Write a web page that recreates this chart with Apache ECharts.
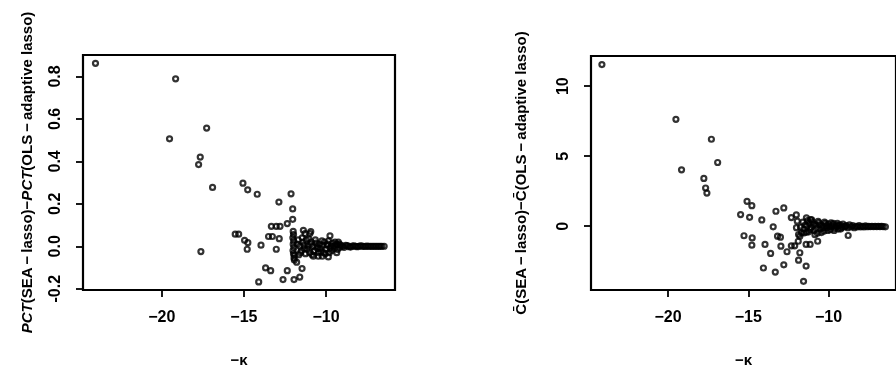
<!DOCTYPE html>
<html lang="en">
<head>
    <meta charset="utf-8">
    <title>SEA-lasso vs adaptive lasso</title>
    <script src="https://cdn.jsdelivr.net/npm/echarts@6.0.0/dist/echarts.min.js"></script>
</head>
<body style="margin:0; background:#fff;">
<div id="main" style="width: 896px; height: 373px;"></div>
<script type="text/javascript">
    // left panel: -kappa vs PCT difference
    const kappaA = [
        -24.04, -19.16, -19.53, -17.27, -17.66, -17.76, -16.91, -17.62, -15.06, -14.77,
        -14.19, -15.53, -15.32, -14.96, -14.76, -14.80, -13.96, -14.10, -13.68, -13.37,
        -12.62, -12.36, -13.03, -13.50, -13.27, -13.33, -13.03, -12.80, -12.85, -12.87,
        -12.13, -12.03, -12.03, -12.36, -11.60, -11.95, -11.46, -11.79, -11.93, -11.38,
        -11.28, -10.98, -10.93, -9.76, -9.25, -10.77, -10.47, -10.23, -9.86, -9.35,
        -12.00, -11.98, -12.02, -11.97, -12.00, -11.96, -12.01, -11.98, -11.95, -11.93,
        -11.70, -11.60, -11.50, -11.40, -11.30, -11.20, -11.10, -11.00, -10.90, -10.80,
        -10.70, -10.60, -10.50, -10.40, -10.30, -10.20, -10.10, -10.00, -9.90, -9.80,
        -9.70, -9.60, -9.50, -9.40, -9.30, -9.20,
        -11.65, -11.45, -11.25, -11.05, -10.85, -10.65, -10.45, -10.25, -10.05, -9.85,
        -9.65, -9.45,
        -11.75, -11.55, -11.35, -11.15, -10.95, -10.75, -10.55, -10.35, -10.15, -9.95,
        -9.75, -9.55, -9.35, -9.15,
        -9.10, -8.90, -8.70, -8.50, -8.30, -8.10, -7.90, -7.70, -7.50, -7.30,
        -7.10, -6.90, -6.70, -6.46, -9.00, -8.80, -8.60, -8.40, -8.20, -8.00,
        -7.80, -7.60, -7.40, -7.20, -7.00, -6.80, -6.60
    ];
    const pctDiff = [
        0.862, 0.789, 0.506, 0.557, 0.420, 0.385, 0.277, -0.025, 0.297, 0.266,
        0.245, 0.057, 0.057, 0.028, 0.017, -0.014, 0.005, -0.168, -0.102, -0.115,
        -0.157, -0.115, -0.014, 0.046, 0.046, 0.094, 0.094, 0.094, 0.036, 0.208,
        0.247, 0.176, 0.127, 0.107, -0.145, -0.157, -0.105, -0.075, -0.042, 0.075,
        0.060, 0.060, 0.069, 0.049, 0.020, -0.047, -0.047, -0.047, -0.050, -0.030,
        0.070, 0.055, 0.040, 0.025, 0.010, -0.005, -0.020, -0.035, -0.055, -0.065,
        0.030, 0.000, -0.020, 0.020, -0.010, 0.030, 0.000, -0.030, 0.020, 0.000,
        -0.020, 0.015, -0.010, 0.010, -0.025, 0.005, 0.020, -0.015, 0.010, -0.030,
        0.000, 0.015, -0.010, 0.005, -0.015, 0.010,
        -0.040, 0.040, -0.035, 0.035, -0.040, 0.030, -0.030, 0.025, -0.035, 0.025,
        -0.020, 0.020,
        0.010, -0.030, 0.005, -0.015, 0.010, -0.025, 0.000, -0.010, -0.030, 0.005,
        -0.010, 0.000, 0.010, -0.005,
        0.005, -0.005, 0.003, -0.004, 0.002, -0.002, 0.002, -0.001, 0.001, 0.000,
        0.000, 0.000, 0.000, 0.000, 0.000, 0.004, -0.002, 0.001, 0.000, 0.000,
        0.001, 0.000, 0.000, 0.000, 0.000, 0.000, 0.000
    ];

    // right panel: -kappa vs C-bar difference
    const kappaB = [
        -24.12, -19.51, -19.16, -17.30, -16.91, -17.77, -17.66, -17.58, -15.08, -14.78,
        -15.48, -14.92, -14.16, -13.28, -12.79, -13.45, -15.27, -14.76, -14.78, -13.96,
        -13.61, -13.18, -13.00, -12.97, -12.59, -12.32, -12.11, -14.06, -13.32, -12.79,
        -11.87, -11.79, -11.40, -11.56, -12.32, -12.01, -11.95, -12.00, -11.75, -11.87,
        -11.40, -11.15, -10.68, -8.78, -6.46, -11.89, -11.79, -11.68, -11.52, -11.38,
        -11.38, -11.12,
        -11.30, -11.20, -11.10, -11.00, -10.90, -10.80, -10.70, -10.60, -10.50, -10.40,
        -10.30, -10.20, -10.10, -10.00, -9.90, -9.80, -9.70, -9.60, -9.50, -9.40,
        -9.30, -9.20, -9.10, -9.00,
        -11.25, -11.05, -10.85, -10.65, -10.45, -10.25, -10.05, -9.85, -9.65, -9.45,
        -9.25, -11.45, -11.55, -11.60,
        -11.35, -11.15, -10.95, -10.75, -10.55, -10.35, -10.15, -9.95, -9.75, -9.55,
        -9.35, -9.15, -8.95,
        -8.90, -8.80, -8.70, -8.60, -8.50, -8.40, -8.30, -8.20, -8.10, -8.00,
        -7.90, -7.80, -7.70, -7.60, -7.50, -7.40, -7.30, -7.20, -7.10, -7.00,
        -6.90, -6.80, -6.70, -6.60
    ];
    const cbarDiff = [
        11.54, 7.63, 4.03, 6.21, 4.55, 3.41, 2.73, 2.37, 1.78, 1.47,
        0.83, 0.64, 0.45, 1.07, 1.31, -0.04, -0.68, -0.83, -1.35, -1.30,
        -1.94, -0.71, -0.78, -1.42, -1.82, -1.40, -1.40, -2.98, -3.27, -2.75,
        -2.42, -1.89, -2.84, -3.93, 0.62, 0.81, 0.36, -0.10, -0.07, -0.59,
        -1.30, -1.30, -1.07, -0.66, -0.04, -1.07, -0.71, -0.47, -0.47, -0.43,
        0.60, 0.48,
        0.40, 0.20, -0.10, 0.30, -0.30, 0.10, -0.50, 0.25, -0.20, 0.05,
        -0.35, 0.20, -0.10, 0.15, -0.25, 0.00, 0.20, -0.15, 0.05, -0.20,
        0.10, -0.10, 0.15, -0.05,
        -0.40, 0.45, -0.60, 0.35, -0.45, 0.30, -0.30, 0.25, -0.30, 0.20,
        -0.20, 0.10, -0.20, 0.30,
        0.00, -0.25, 0.15, -0.15, 0.10, -0.10, 0.05, -0.05, 0.10, -0.05,
        0.05, 0.00, 0.00,
        0.05, -0.10, 0.10, -0.05, 0.05, -0.10, 0.00, -0.05, 0.05, -0.05,
        0.00, -0.05, 0.02, -0.03, 0.00, -0.02, 0.00, -0.02, 0.00, -0.02,
        0.00, -0.02, 0.00, -0.02
    ];

    const xTicks = [-20, -15, -10];
    const yTicksA = [-0.2, 0, 0.2, 0.4, 0.6, 0.8];
    const yTicksB = [0, 5, 10];

    const font = 'Liberation Sans';
    const txt = {color: '#000', fontSize: 15, fontWeight: 'bold', fontFamily: font};
    const tickTxt = Object.assign({}, txt, {fontSize: 16});

    function xAxisFor(idx) {
        return {
            type: 'value', gridIndex: idx, min: -24.8, max: -5.8,
            axisLine: {show: false, onZero: false}, splitLine: {show: false},
            axisTick: {show: true, length: 7, customValues: xTicks, lineStyle: {color: '#000', width: 1.8}},
            axisLabel: Object.assign({customValues: xTicks, margin: 20,
                formatter: v => String(v).replace('-', '\u2212')}, tickTxt),
            name: '\u2212\u03ba', nameLocation: 'middle', nameGap: 63, nameTextStyle: txt
        };
    }

    function yAxisFor(idx, min, max, ticks, fmt, name, gap, rich) {
        return {
            type: 'value', gridIndex: idx, min: min, max: max,
            axisLine: {show: false, onZero: false}, splitLine: {show: false},
            axisTick: {show: true, length: 7, customValues: ticks, lineStyle: {color: '#000', width: 1.8}},
            axisLabel: Object.assign({customValues: ticks, margin: 19, rotate: 90, formatter: fmt}, tickTxt),
            name: name, nameLocation: 'middle', nameRotate: 90, nameGap: gap,
            nameTextStyle: Object.assign({rich: rich}, txt)
        };
    }

    const ring = {color: 'rgba(0,0,0,0)', borderColor: '#000', borderWidth: 2.2};

    let myChart = echarts.init(document.getElementById('main'));
    const option = {
        animation: false,
        grid: [
            {left: 83, top: 55, width: 312, height: 235, show: true, borderColor: '#000', borderWidth: 2.2, backgroundColor: 'transparent'},
            {left: 591, top: 56, width: 310, height: 234, show: true, borderColor: '#000', borderWidth: 2.2, backgroundColor: 'transparent'}
        ],
        xAxis: [xAxisFor(0), xAxisFor(1)],
        yAxis: [
            yAxisFor(0, -0.206, 0.901, yTicksA, v => v.toFixed(1),
                '{i|PCT}(SEA\u2009\u2212\u2009lasso)\u2212{i|PCT}(OLS\u2009\u2212\u2009adaptive lasso)', 48,
                {i: Object.assign({fontStyle: 'italic'}, txt)}),
            yAxisFor(1, -4.55, 12.15, yTicksB, v => String(v),
                'C\u0304(SEA\u2009\u2212\u2009lasso)\u2212C\u0304(OLS\u2009\u2212\u2009adaptive lasso)', 62, {})
        ],
        series: [
            {
                type: 'scatter', xAxisIndex: 0, yAxisIndex: 0, symbol: 'circle', symbolSize: 5,
                itemStyle: ring, silent: true,
                data: kappaA.map((k, i) => [k, pctDiff[i]])
            },
            {
                type: 'scatter', xAxisIndex: 1, yAxisIndex: 1, symbol: 'circle', symbolSize: 5,
                itemStyle: ring, silent: true,
                data: kappaB.map((k, i) => [k, cbarDiff[i]])
            }
        ]
    };
    myChart.setOption(option);
</script>
</body>
</html>
